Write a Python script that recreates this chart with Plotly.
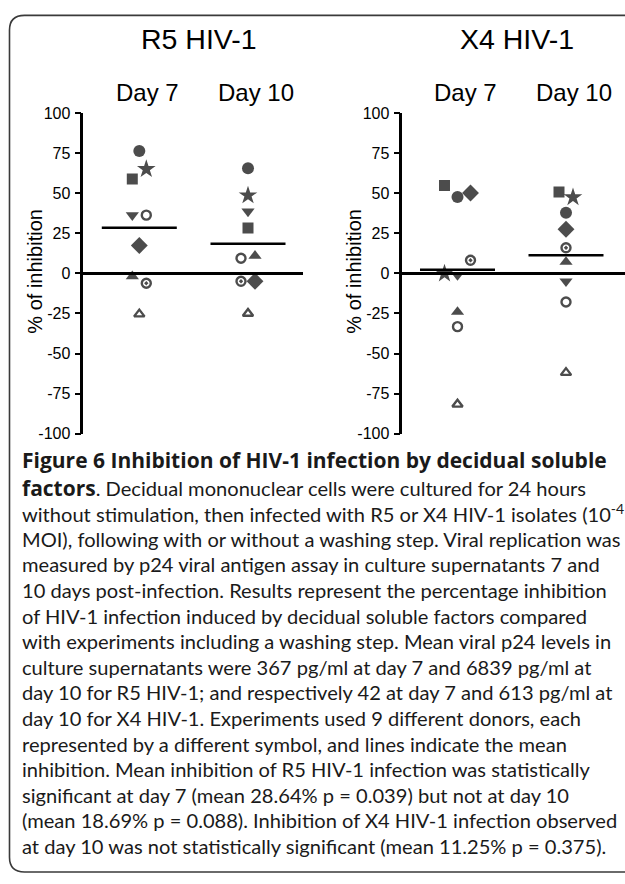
import plotly.graph_objects as go
import numpy as np

# ---------------- data ----------------
DONORS = ["filled circle", "star", "square", "triangle down", "open circle",
          "diamond", "triangle up", "bullseye", "open triangle"]
PANELS = ["R5 HIV-1", "X4 HIV-1"]
DAYS = ["Day 7", "Day 10"]
R5_DAY7 = [76.4, 65.1, 59.0, 36.4, 36.4, 17.4, -1.8, -6.1, -25.4]
R5_DAY10 = [65.7, 48.7, 28.3, 38.7, 9.5, -4.9, 11.0, -4.9, -25.0]
X4_DAY7 = [47.7, 0.0, 54.9, -1.0, -33.2, 50.2, -24.0, 8.2, -81.7]
X4_DAY10 = [37.9, 47.5, 50.8, -4.9, -17.8, 27.6, 7.2, 16.0, -61.9]
Y_TICKS = [-100, -75, -50, -25, 0, 25, 50, 75, 100]
Y_TITLE = "% of inhibition"

BOLD = "<span style=\"font-family:'Open Sans';font-weight:bold;font-size:21px\">{}</span>"
CAPTION = [
    BOLD.format("Figure 6 Inhibition of HIV-1 infection by decidual soluble"),
    BOLD.format("factors") + ". Decidual mononuclear cells were cultured for 24 hours",
    "without stimulation, then infected with R5 or X4 HIV-1 isolates (10<sup>-4</sup>",
    "MOI), following with or without a washing step. Viral replication was",
    "measured by p24 viral antigen assay in culture supernatants 7 and",
    "10 days post-infection. Results represent the percentage inhibition",
    "of HIV-1 infection induced by decidual soluble factors compared",
    "with experiments including a washing step. Mean viral p24 levels in",
    "culture supernatants were 367 pg/ml at day 7 and 6839 pg/ml at",
    "day 10 for R5 HIV-1; and respectively 42 at day 7 and 613 pg/ml at",
    "day 10 for X4 HIV-1. Experiments used 9 different donors, each",
    "represented by a different symbol, and lines indicate the mean",
    "inhibition. Mean inhibition of R5 HIV-1 infection was statistically",
    "significant at day 7 (mean 28.64% p = 0.039) but not at day 10",
    "(mean 18.69% p = 0.088). Inhibition of X4 HIV-1 infection observed",
    "at day 10 was not statistically significant (mean 11.25% p = 0.375).",
]

# ---------------- styles / layout helpers ----------------
W, H = 625, 884
SYMBOL_STYLE = {
    "filled circle": ("circle", 12, 0),
    "star": ("star", 14, 0),
    "square": ("square", 11, 0),
    "triangle down": ("triangle-down", 11.5, 0),
    "open circle": ("circle-open", 9, 2.4),
    "diamond": ("diamond", 13, 0),
    "triangle up": ("triangle-up", 11.5, 0),
    "bullseye": ("circle-open-dot", 9, 2.4),
    "open triangle": ("triangle-up-open", 9, 2.4),
}
# horizontal jitter in pixels (layout only)
JITTER = {
    ("R5 HIV-1", "Day 7"): [0, 7, -7, -7, 7, 0, -7, 7, 0],
    ("R5 HIV-1", "Day 10"): [0, 0, 0, 0, -7, 7, 7, -7, 0],
    ("X4 HIV-1", "Day 7"): [0, -13, -13, 0, 0, 13, 0, 13, 0],
    ("X4 HIV-1", "Day 10"): [0, 7, -7, 0, 0, 0, 0, 0, 0],
}
VALUES = {
    ("R5 HIV-1", "Day 7"): R5_DAY7,
    ("R5 HIV-1", "Day 10"): R5_DAY10,
    ("X4 HIV-1", "Day 7"): X4_DAY7,
    ("X4 HIV-1", "Day 10"): X4_DAY10,
}
# pixel geometry of each panel: y-axis x, day7 centre, day10 centre, right end
PANEL_PX = {"R5 HIV-1": (83.3, 139.3, 248.0, 303.0),
            "X4 HIV-1": (402.3, 457.5, 566.0, 625.0)}
Y_TOP_PX, Y_BOT_PX = 107.3, 434.0
MEAN_HALF_PX = 37.5

AX_FONT = "Liberation Sans, Arial, sans-serif"
CAP_FONT = "Lato, Open Sans, sans-serif"

fig = go.Figure()
layout_axes = {}
annotations = []

for i, panel in enumerate(PANELS):
    ax_px, c7, c10, end_px = PANEL_PX[panel]
    unit = c10 - c7
    xr = [1 - (c7 - ax_px) / unit, 2 + (end_px - c10) / unit]
    xname = "x" if i == 0 else "x2"
    yname = "y" if i == 0 else "y2"
    xkey = "xaxis" if i == 0 else "xaxis2"
    ykey = "yaxis" if i == 0 else "yaxis2"
    layout_axes[xkey] = dict(domain=[ax_px / W, min(end_px / W, 1.0)], range=xr,
                             visible=False, anchor=yname, fixedrange=True)
    layout_axes[ykey] = dict(domain=[1 - Y_BOT_PX / H, 1 - Y_TOP_PX / H], range=[-100, 100],
                             anchor=xname, tickmode="array", tickvals=Y_TICKS,
                             ticktext=[str(t) for t in Y_TICKS],
                             showline=True, linewidth=2.5, linecolor="black",
                             ticks="outside", ticklen=6, tickwidth=2, tickcolor="black",
                             showgrid=False, zeroline=True, zerolinewidth=2.5,
                             zerolinecolor="black", ticklabelstandoff=1,
                             tickfont=dict(family=AX_FONT, size=16, color="black"),
                             fixedrange=True)
    for j, day in enumerate(DAYS):
        vals = VALUES[(panel, day)]
        centre = 1 + j
        xs = [centre + o / unit for o in JITTER[(panel, day)]]
        fig.add_trace(go.Scatter(
            x=xs, y=vals, mode="markers", xaxis=xname, yaxis=yname,
            showlegend=False, hoverinfo="y",
            marker=dict(symbol=[SYMBOL_STYLE[d][0] for d in DONORS],
                        size=[SYMBOL_STYLE[d][1] for d in DONORS],
                        color="black",
                        line=dict(color="black", width=[SYMBOL_STYLE[d][2] for d in DONORS]))))
        m = float(np.mean(vals))
        hw = MEAN_HALF_PX / unit
        fig.add_trace(go.Scatter(
            x=[centre - hw, centre + hw], y=[m, m], mode="lines",
            xaxis=xname, yaxis=yname, showlegend=False, hoverinfo="skip",
            line=dict(color="black", width=2.5)))
        # day label
        day_cx = (c7 if j == 0 else c10) + 8
        annotations.append(dict(text=day, x=day_cx / W, y=1 - 86.5 / H, xref="paper", yref="paper",
                                xanchor="center", yanchor="middle", showarrow=False,
                                font=dict(family=AX_FONT, size=24, color="black")))
    # panel title
    annotations.append(dict(text=panel, x=((c7 + c10) / 2 + 5) / W, y=1 - 32 / H,
                            xref="paper", yref="paper", xanchor="center", yanchor="middle",
                            showarrow=False, font=dict(family=AX_FONT, size=28.5, color="black")))
    # y title
    annotations.append(dict(text=Y_TITLE, x=(ax_px - 48.5) / W, y=1 - 268 / H,
                            xref="paper", yref="paper", xanchor="center", yanchor="middle",
                            textangle=-90, showarrow=False,
                            font=dict(family=AX_FONT, size=20, color="black")))

# caption lines
CAP_Y0, CAP_DY = 463.0, 26.1
for k, line in enumerate(CAPTION):
    yy = CAP_Y0 + k * CAP_DY - (2.0 if k == 0 else 0.0)
    annotations.append(dict(text=line, x=20 / W, y=1 - yy / H,
                            xref="paper", yref="paper", xanchor="left", yanchor="middle",
                            showarrow=False, align="left",
                            font=dict(family=CAP_FONT, size=20.1, color="#1a1a1a")))

# rounded frame (open on the right, as in the cropped original)
R = 15
L, T, B, RIGHT = 9.5, 7.5, 881.0, 660.0
def P(x, y):
    return f"{x / W:.5f},{1 - y / H:.5f}"
frame_path = (f"M{P(RIGHT, T)} L{P(L + R, T)} Q{P(L, T)} {P(L, T + R)} "
              f"L{P(L, B - R)} Q{P(L, B)} {P(L + R, B)} L{P(RIGHT, B)}")

fig.update_layout(
    width=W, height=H, autosize=False,
    margin=dict(l=0, r=0, t=0, b=0, pad=0),
    paper_bgcolor="white", plot_bgcolor="rgba(0,0,0,0)",
    annotations=annotations,
    shapes=[dict(type="path", path=frame_path, xref="paper", yref="paper",
                 line=dict(color="#3a3a3a", width=1.6))],
    **layout_axes,
)

fig.write_html("out.html", config={"displayModeBar": False},
               post_script="document.body.style.margin='0px';document.body.style.overflow='hidden';")
